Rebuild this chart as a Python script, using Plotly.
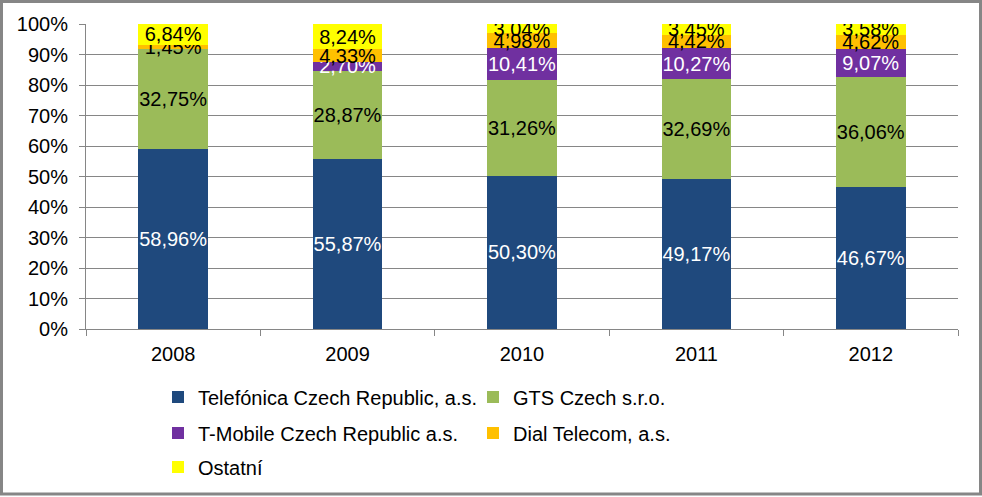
import plotly.graph_objects as go

years = ["2008", "2009", "2010", "2011", "2012"]
telefonica = [58.96, 55.87, 50.30, 49.17, 46.67]
gts = [32.75, 28.87, 31.26, 32.69, 36.06]
tmobile = [None, 2.70, 10.41, 10.27, 9.07]
dial = [1.45, 4.33, 4.98, 4.42, 4.62]
ostatni = [6.84, 8.24, 3.04, 3.45, 3.58]

series = [
    ("Telefónica Czech Republic, a.s.", telefonica, "#1F497D", "white", "legend"),
    ("GTS Czech s.r.o.", gts, "#9BBB59", "black", "legend"),
    ("T-Mobile Czech Republic a.s.", tmobile, "#7030A0", "white", "legend2"),
    ("Dial Telecom, a.s.", dial, "#FFC000", "black", "legend2"),
    ("Ostatní", ostatni, "#FFFF00", "black", "legend3"),
]

FONT = "Liberation Sans, Arial, sans-serif"

fig = go.Figure()
for name, vals, color, tcolor, lg in series:
    txt = [("" if v is None else f"{v:.2f}%".replace(".", ",")) for v in vals]
    fig.add_trace(go.Bar(
        x=years, y=vals, name=name,
        marker=dict(color=color, line=dict(width=0)),
        text=txt, textposition="inside", insidetextanchor="middle",
        textangle=0, constraintext="none",
        textfont=dict(color=tcolor, size=20, family=FONT),
        legend=lg, hoverinfo="skip",
    ))

L, R, T, B = 86, 24, 24, 167
W, H = 982, 497
pw, ph = W - L - R, H - T - B

def px_x(p):
    return (p - L) / pw

def px_y(p):
    return (H - B - p) / ph

leg_common = dict(orientation="h", xanchor="left", yanchor="middle",
                  font=dict(size=20, family=FONT, color="black"),
                  bgcolor="rgba(0,0,0,0)", entrywidth=270, entrywidthmode="pixels",
                  traceorder="normal", itemclick=False)

fig.update_layout(
    width=W, height=H,
    margin=dict(l=L, r=R, t=T, b=B),
    barmode="stack", bargap=0.6,
    plot_bgcolor="white", paper_bgcolor="white",
    font=dict(family=FONT, size=20, color="black"),
    uniformtext=dict(minsize=20, mode="show"),
    xaxis=dict(showline=True, linecolor="#868686", linewidth=1,
               ticks="outside", tickson="boundaries", ticklen=6, tickcolor="#868686",
               ticklabelstandoff=7,
               tickfont=dict(size=20, family=FONT), showgrid=False),
    yaxis=dict(range=[0, 100], dtick=10, ticksuffix="%",
               showline=True, linecolor="#868686", linewidth=1,
               ticks="outside", ticklen=6, tickcolor="#868686",
               ticklabelstandoff=7,
               showgrid=True, gridcolor="#868686", gridwidth=1,
               tickfont=dict(size=20, family=FONT), zeroline=False),
    legend=dict(x=px_x(158), y=px_y(397), **leg_common),
    legend2=dict(x=px_x(158), y=px_y(433), **leg_common),
    legend3=dict(x=px_x(158), y=px_y(467), **leg_common),
    shapes=[dict(type="rect", xref="paper", yref="paper",
                 x0=px_x(1.5), x1=px_x(980.5), y0=px_y(495.5), y1=px_y(1.5),
                 line=dict(color="#868686", width=3), fillcolor="rgba(0,0,0,0)",
                 layer="below")],
)

fig.write_html("out.html", config={"displayModeBar": False},
               post_script="document.body.style.margin='0';document.body.style.overflow='hidden';")
